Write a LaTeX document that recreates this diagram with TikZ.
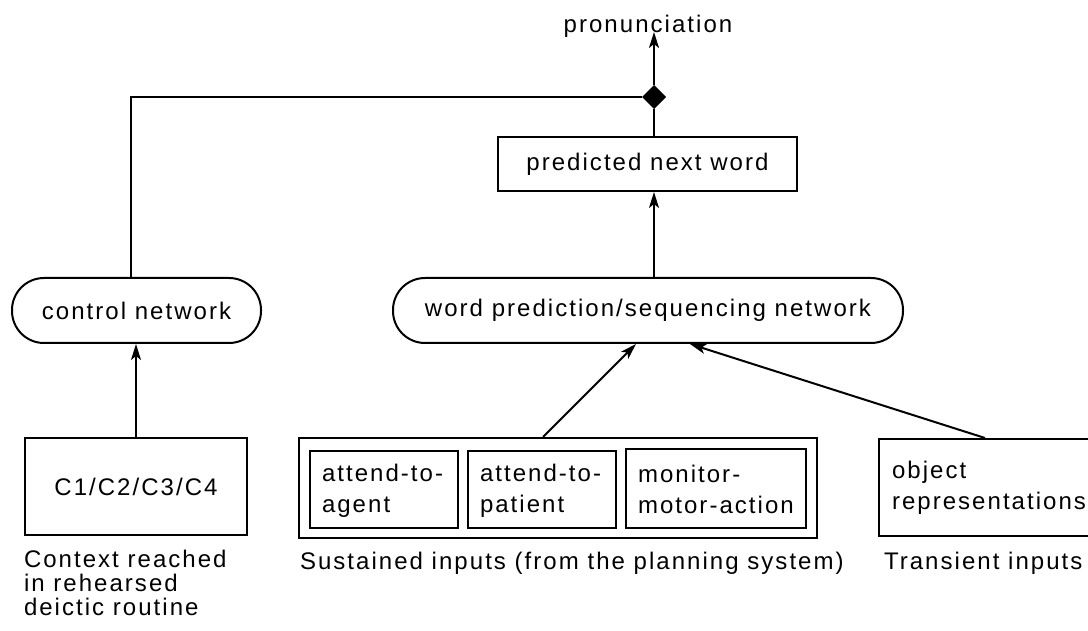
\documentclass[tikz,border=0pt]{standalone}
\usepackage{fontspec}
\setmainfont[LetterSpace=8.5]{Liberation Sans}
\usetikzlibrary{arrows.meta,shapes.geometric}

\begin{document}
\begin{tikzpicture}[x=1pt,y=-1pt,line width=2pt,
  every node/.style={font=\fontsize{24}{24}\selectfont},
  arr/.style={-{Stealth[length=16pt,width=10pt,inset=4pt]}},
  box/.style={draw,rectangle,inner sep=0pt},
  pill/.style={draw,rectangle,rounded corners=32pt,inner sep=0pt,minimum height=65pt},
  slot/.style={draw,rectangle,inner sep=0pt,minimum width=148pt,minimum height=77pt},
  slottext/.style={anchor=west,align=left,inner sep=0pt,font=\fontsize{24}{31}\selectfont},
  caption/.style={inner sep=0pt,align=left}]

\useasboundingbox (0,0) rectangle (1088,631);

% output side
\node[inner sep=0pt,anchor=base] (pron) at (648,33) {pronunciation};
\node[diamond,aspect=1,fill=black,inner sep=0pt,minimum size=24pt,line width=0pt] (junc) at (654,97) {};
\node[box,minimum width=299pt,minimum height=54pt] (pred) at (647.5,164) {predicted next word};

% networks
\node[pill,minimum width=249pt] (ctrl) at (136.5,310.5) {control network};
\node[pill,minimum width=510pt] (net) at (648,310.5) {word prediction/sequencing network};

% context input
\node[box,minimum width=222pt,minimum height=97pt] (cbox) at (136,486.5) {C1/C2/C3/C4};
\node[caption,anchor=north west] (ccap) at (23,549) {Context reached\\in rehearsed\\deictic routine};

% sustained inputs
\node[box,minimum width=518pt,minimum height=100pt] (sus) at (558,488) {};
\node[slot] (s1) at (384,489.5) {};
\node[slottext] (t1) at (321,491) {attend-to-\\agent};
\node[slot] (s2) at (542,489.5) {};
\node[slottext] (t2) at (479,491) {attend-to-\\patient};
\node[slot,minimum width=180pt,minimum height=79pt] (s3) at (716,488.5) {};
\node[slottext] (t3) at (637,489) {monitor-\\motor-action};
\node[caption,anchor=base west] (scap) at (299,569) {Sustained inputs (from the planning system)};

% transient inputs
\node[box,minimum width=212pt,minimum height=97pt] (obj) at (985,487.5) {};
\node[slottext] (t4) at (891,488) {object\\representations};
\node[caption,anchor=base west] (tcap) at (883,569) {Transient inputs};

% connectors
\draw[arr] (junc.north) -- ([yshift=7pt]junc |- pron.south);
\draw (junc |- pred.north) -- (junc.south);
\draw ([xshift=-5.5pt]ctrl.north) |- (junc.west);
\draw[arr] (junc |- net.north) -- (junc |- pred.south);
\draw[arr] (cbox.north) -- (cbox.north |- ctrl.south);
\draw[arr] ([xshift=-15pt]sus.north) -- ([xshift=-12pt]net.south);
\draw[arr] (obj.north) -- ([xshift=42pt]net.south);

\end{tikzpicture}
\end{document}
